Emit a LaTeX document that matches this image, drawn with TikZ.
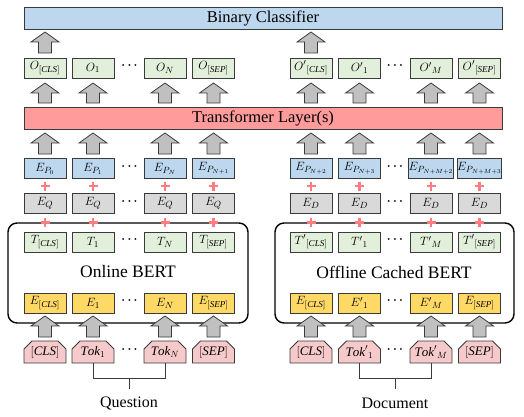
\documentclass[tikz,border=0pt]{standalone}
\usepackage{fontspec}
\setmainfont{Liberation Serif}
\usetikzlibrary{shapes.misc}

\definecolor{lineC}{HTML}{3A3A3A}
\definecolor{blueC}{HTML}{BDD7EE}
\definecolor{redC}{HTML}{FF9B9B}
\definecolor{greenC}{HTML}{E2EFDA}
\definecolor{grayC}{HTML}{D9D9D9}
\definecolor{yellowC}{HTML}{FFD966}
\definecolor{pinkC}{HTML}{F6CACA}
\definecolor{arrowC}{HTML}{C0C0C0}
\definecolor{plusC}{HTML}{FF7C80}

\tikzset{
  cell/.style={draw=lineC, line width=0.8pt, minimum width=42pt, minimum height=20pt,
    inner sep=0pt, font=\fontsize{13}{15}\selectfont},
  ocell/.style={cell, fill=greenC},
  pcell/.style={cell, fill=blueC},
  scell/.style={cell, fill=grayC},
  tcell/.style={cell, fill=greenC},
  ecell/.style={cell, fill=yellowC},
  tokcell/.style={cell, fill=pinkC, minimum height=22pt, chamfered rectangle,
    chamfered rectangle corners={north west,north east},
    chamfered rectangle xsep=4pt, chamfered rectangle ysep=4pt},
  wide/.style={draw=lineC, line width=0.9pt, font=\fontsize{16.5}{18}\selectfont},
  bertbox/.style={draw=black, line width=1.4pt, rounded corners=9pt},
  dots/.style={font=\fontsize{13}{15}\selectfont\boldmath},
  plussign/.style={draw=plusC, line width=2.6pt},
  blockarrow/.style={draw=lineC, line width=0.8pt, fill=arrowC, line join=miter},
  bracket/.style={draw=lineC, line width=0.9pt},
  caption/.style={font=\fontsize{16}{18}\selectfont},
  bertlabel/.style={font=\fontsize{17.5}{20}\selectfont}
}

% block arrow pointing up: #1 = x centre, #2 = bottom y, #3 = top y
\newcommand\blockup[3]{%
  \path[blockarrow] (#1-6.5,#2) -- (#1-6.5,#3+10) -- (#1-14,#3+10) -- (#1,#3)
    -- (#1+14,#3+10) -- (#1+6.5,#3+10) -- (#1+6.5,#2) -- cycle;}
% plus sign centred at (#1,#2)
\newcommand\plusat[2]{%
  \draw[plussign] (#1-4.5,#2) -- (#1+4.5,#2) (#1,#2-4.5) -- (#1,#2+4.5);}

\begin{document}
\begin{tikzpicture}[x=1pt, y=-1pt]
\useasboundingbox (0,0) rectangle (524,417);

% top bars
\node[wide, fill=blueC, minimum width=478pt, minimum height=21.5pt] (bin) at (263,18.25) {Binary Classifier};
\node[wide, fill=redC, minimum width=478pt, minimum height=21pt] (trans) at (263,118.5) {Transformer Layer(s)};

% BERT encoder frames
\draw[bertbox] (8,223) rectangle (248,323);
\draw[bertbox] (275,223) rectangle (514,323);
\node[bertlabel] (onl) at (128,272) {Online BERT};
\node[bertlabel] (off) at (394,272) {Offline Cached BERT};

% output row
\node[ocell] (o1) at (45,68) {$O_{[\mathit{CLS}]}$};
\node[ocell] (o2) at (93,68) {$O_1$};
\node[ocell] (o3) at (165,68) {$O_N$};
\node[ocell] (o4) at (213.5,68) {$O_{[\mathit{SEP}]}$};
\node[ocell] (o5) at (311,68) {${O'}_{[\mathit{CLS}]}$};
\node[ocell] (o6) at (359.5,68) {${O'}_1$};
\node[ocell] (o7) at (431,68) {${O'}_M$};
\node[ocell] (o8) at (479.5,68) {${O'}_{[\mathit{SEP}]}$};

% position embeddings
\node[pcell] (p1) at (45,168.5) {$E_{P_0}$};
\node[pcell] (p2) at (93,168.5) {$E_{P_1}$};
\node[pcell] (p3) at (165,168.5) {$E_{P_N}$};
\node[pcell] (p4) at (213.5,168.5) {$E_{P_{N+1}}$};
\node[pcell] (p5) at (311,168.5) {$E_{P_{N+2}}$};
\node[pcell] (p6) at (359.5,168.5) {$E_{P_{N+3}}$};
\node[pcell] (p7) at (431,168.5) {$E_{P_{N+M+2}}$};
\node[pcell] (p8) at (479.5,168.5) {$E_{P_{N+M+3}}$};

% segment embeddings
\node[scell] (s1) at (45,203.5) {$E_Q$};
\node[scell] (s2) at (93,203.5) {$E_Q$};
\node[scell] (s3) at (165,203.5) {$E_Q$};
\node[scell] (s4) at (213.5,203.5) {$E_Q$};
\node[scell] (s5) at (311,203.5) {$E_D$};
\node[scell] (s6) at (359.5,203.5) {$E_D$};
\node[scell] (s7) at (431,203.5) {$E_D$};
\node[scell] (s8) at (479.5,203.5) {$E_D$};

% BERT outputs
\node[tcell] (t1) at (45,242) {$T_{[\mathit{CLS}]}$};
\node[tcell] (t2) at (93,242) {$T_1$};
\node[tcell] (t3) at (165,242) {$T_N$};
\node[tcell] (t4) at (213.5,242) {$T_{[\mathit{SEP}]}$};
\node[tcell] (t5) at (311,242) {${T'}_{[\mathit{CLS}]}$};
\node[tcell] (t6) at (359.5,242) {${T'}_1$};
\node[tcell] (t7) at (431,242) {${T'}_M$};
\node[tcell] (t8) at (479.5,242) {${T'}_{[\mathit{SEP}]}$};

% token embeddings
\node[ecell] (e1) at (45,303) {$E_{[\mathit{CLS}]}$};
\node[ecell] (e2) at (93,303) {$E_1$};
\node[ecell] (e3) at (165,303) {$E_N$};
\node[ecell] (e4) at (213.5,303) {$E_{[\mathit{SEP}]}$};
\node[ecell] (e5) at (311,303) {$E_{[\mathit{CLS}]}$};
\node[ecell] (e6) at (359.5,303) {${E'}_1$};
\node[ecell] (e7) at (431,303) {${E'}_M$};
\node[ecell] (e8) at (479.5,303) {$E_{[\mathit{SEP}]}$};

% input tokens
\node[tokcell] (k1) at (45,352) {$[\mathit{CLS}]$};
\node[tokcell] (k2) at (93,352) {$\mathit{Tok}_1$};
\node[tokcell] (k3) at (165,352) {$\mathit{Tok}_N$};
\node[tokcell] (k4) at (213.5,352) {$[\mathit{SEP}]$};
\node[tokcell] (k5) at (311,352) {$[\mathit{CLS}]$};
\node[tokcell] (k6) at (359.5,352) {${\mathit{Tok}'}_1$};
\node[tokcell] (k7) at (431,352) {${\mathit{Tok}'}_M$};
\node[tokcell] (k8) at (479.5,352) {$[\mathit{SEP}]$};

% ellipses between columns
\foreach \y/\n in {68/o,168.5/p,203.5/s,242/t,303/e,352/k} {
  \node[dots] (dl\n) at (129.5,\y-2) {$\cdots$};
  \node[dots] (dr\n) at (395,\y-2) {$\cdots$};
}

% plus signs
\foreach \x in {45,93,165,213.5,311,359.5,431,479.5} {
  \plusat{\x}{186}
}

% block arrows
\blockup{45}{53}{32}
\blockup{311}{53}{32}
\foreach \x in {45,93,165,213.5,311,359.5,431,479.5} {
  \blockup{\x}{103}{83}
  \blockup{\x}{154}{133}
  \blockup{\x}{337}{316}
}

% plus signs over the frame edge
\foreach \x in {45,93,165,213.5,311,359.5,431,479.5} {
  \plusat{\x}{222.5}
}

% grouping brackets
\coordinate (qm) at (129,378);
\coordinate (dm) at (395,378);
\draw[bracket] (k2.south) -- (k2.south |- qm) -- (k3.south |- qm) -- (k3.south);
\draw[bracket] (qm) -- ++(0,11) coordinate (qs);
\draw[bracket] (k6.south) -- (k6.south |- dm) -- (k7.south |- dm) -- (k7.south);
\draw[bracket] (dm) -- ++(0,11) coordinate (ds);
\node[caption] (qlab) at (129,403) {Question};
\node[caption] (dlab) at (395,403) {Document};
\end{tikzpicture}
\end{document}
